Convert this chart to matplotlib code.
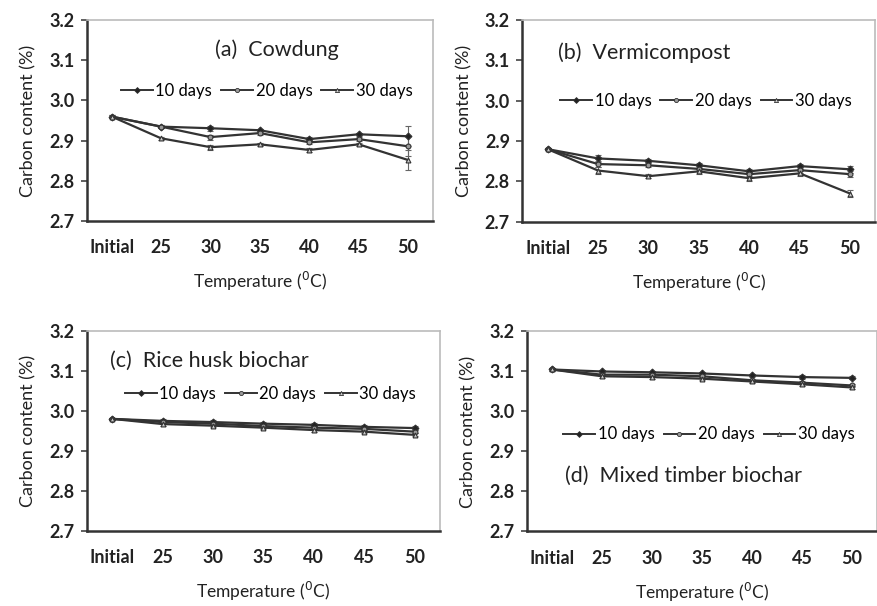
import matplotlib
matplotlib.use('Agg')
import matplotlib.pyplot as plt
from matplotlib.lines import Line2D

plt.rcParams['font.family'] = ['Lato', 'DejaVu Sans']

categories = ['Initial', '25', '30', '35', '40', '45', '50']
series_names = ['10 days', '20 days', '30 days']

# (a) Cowdung
cow_10 = [2.960, 2.935, 2.931, 2.926, 2.904, 2.916, 2.911]
cow_20 = [2.960, 2.935, 2.909, 2.919, 2.896, 2.904, 2.886]
cow_30 = [2.960, 2.906, 2.884, 2.891, 2.877, 2.891, 2.852]
cow_err = [0.004, 0.004, 0.006, 0.004, 0.005, 0.004, 0.025]

# (b) Vermicompost
ver_10 = [2.880, 2.857, 2.851, 2.840, 2.825, 2.838, 2.830]
ver_20 = [2.880, 2.843, 2.840, 2.831, 2.818, 2.828, 2.818]
ver_30 = [2.880, 2.827, 2.813, 2.825, 2.808, 2.820, 2.770]
ver_err = [0.003, 0.008, 0.005, 0.006, 0.006, 0.006, 0.008]

# (c) Rice husk biochar
rice_10 = [2.980, 2.975, 2.972, 2.968, 2.965, 2.960, 2.957]
rice_20 = [2.980, 2.972, 2.968, 2.962, 2.958, 2.955, 2.948]
rice_30 = [2.980, 2.967, 2.963, 2.958, 2.952, 2.948, 2.940]
rice_err = [0.003, 0.004, 0.004, 0.004, 0.004, 0.004, 0.004]

# (d) Mixed timber biochar
tim_10 = [3.105, 3.100, 3.098, 3.095, 3.090, 3.086, 3.084]
tim_20 = [3.105, 3.092, 3.092, 3.088, 3.078, 3.072, 3.065]
tim_30 = [3.105, 3.088, 3.086, 3.082, 3.075, 3.068, 3.060]
tim_err = [0.003, 0.004, 0.004, 0.004, 0.004, 0.004, 0.004]

yticks = [2.7, 2.8, 2.9, 3.0, 3.1, 3.2]

panels = [
    dict(rect=[0.099, 0.635, 0.394, 0.332], data=[cow_10, cow_20, cow_30], err=cow_err,
         title='(a)  Cowdung', tx=0.55, ty=0.85, ha='center', ly=0.647),
    dict(rect=[0.595, 0.634, 0.402, 0.333], data=[ver_10, ver_20, ver_30], err=ver_err,
         title='(b)  Vermicompost', tx=0.10, ty=0.84, ha='left', ly=0.60),
    dict(rect=[0.099, 0.124, 0.402, 0.330], data=[rice_10, rice_20, rice_30], err=rice_err,
         title='(c)  Rice husk biochar', tx=0.065, ty=0.85, ha='left', ly=0.685),
    dict(rect=[0.600, 0.123, 0.399, 0.330], data=[tim_10, tim_20, tim_30], err=tim_err,
         title='(d)  Mixed timber biochar', tx=0.108, ty=0.28, ha='left', ly=0.485),
]

markers = ['D', 'o', '^']
faces = ['#222222', '#9a9a9a', '#cccccc']
line_col = '#333333'
txt_col = '#222222'

fig = plt.figure(figsize=(8.78, 6.06), dpi=100)

for p in panels:
    ax = fig.add_axes(p['rect'])
    x = range(len(categories))
    handles = []
    for vals, name, m, fc in zip(p['data'], series_names, markers, faces):
        ax.errorbar(x, vals, yerr=p['err'], color=line_col, lw=1.6, marker=m,
                    ms=3.5, mfc=fc, mec=line_col, mew=0.8, ecolor='#666666',
                    elinewidth=0.8, capsize=2)
        handles.append(Line2D([], [], color=line_col, lw=1.4, marker=m, ms=3,
                              mfc=fc, mec=line_col, mew=0.6, label=name))
    ax.set_xlim(-0.5, 6.5)
    ax.set_ylim(2.7, 3.2)
    ax.set_yticks(yticks)
    ax.set_yticklabels(['%.1f' % v for v in yticks])
    ax.set_xticks(list(x))
    ax.set_xticklabels(categories)
    for lab in ax.get_xticklabels() + ax.get_yticklabels():
        lab.set_fontweight('bold')
        lab.set_fontsize(13)
        lab.set_color(txt_col)
    ax.tick_params(axis='x', length=0, pad=13)
    ax.tick_params(axis='y', length=4, width=1.2, direction='out', pad=5, color='#444444')
    for side in ['left', 'bottom']:
        ax.spines[side].set_linewidth(1.8)
        ax.spines[side].set_color('#333333')
    for side in ['top', 'right']:
        ax.spines[side].set_linewidth(1.2)
        ax.spines[side].set_color('#bbbbbb')
    ax.set_ylabel('Carbon content (%)', fontsize=13, color=txt_col, labelpad=9)
    ax.set_xlabel('Temperature ($^{0}$C)', fontsize=12.5, color=txt_col, labelpad=10)
    ax.text(p['tx'], p['ty'], p['title'], transform=ax.transAxes, ha=p['ha'],
            va='center', fontsize=15.5, color=txt_col)
    ax.legend(handles=handles, loc='center', bbox_to_anchor=(0.52, p['ly']), ncol=3,
              frameon=False, fontsize=12, handlelength=1.9, handletextpad=0.15,
              columnspacing=0.55, borderaxespad=0)

fig.savefig('out.png', dpi=100)
